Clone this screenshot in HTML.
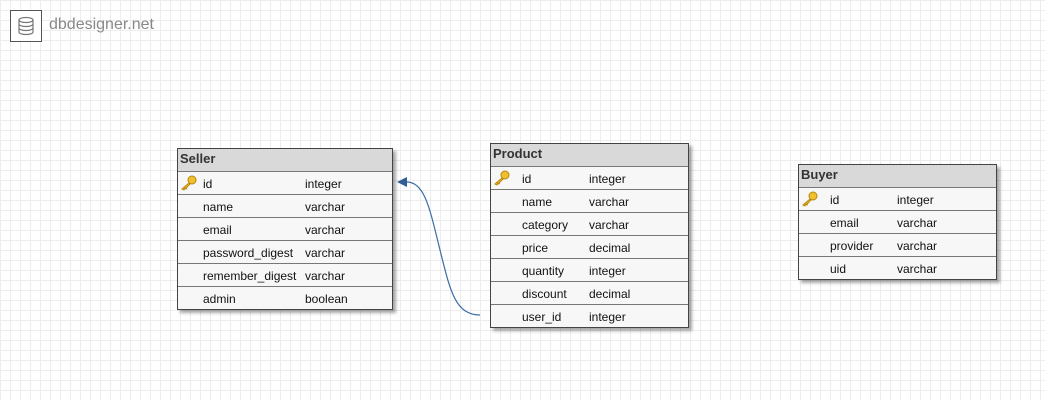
<!DOCTYPE html>
<html><head><meta charset="utf-8"><style>
html,body{margin:0;padding:0}
body{width:1045px;height:400px;position:relative;overflow:hidden;background:#fff;
background-image:linear-gradient(#ededed 1px,transparent 1px),linear-gradient(90deg,#ededed 1px,transparent 1px);
background-size:10px 10px;background-position:0 0;font-family:"Liberation Sans",Arial,sans-serif;}
.logo{position:absolute;left:10px;top:10px;width:30px;height:30px;border:1px solid #555;background:#fff}
.brand{position:absolute;left:49px;top:16px;font-size:16px;color:#888}
.t{position:absolute;border:1px solid #444;background:#f7f7f7;box-shadow:3px 3px 3px rgba(0,0,0,.35)}
.h{height:22px;line-height:20px;background:#d9d9d9;border-bottom:1px solid #777;font-weight:bold;font-size:13px;color:#333;padding-left:2px}
.r{height:22px;border-bottom:1px solid #777;position:relative;font-size:12px;color:#111;line-height:22px}
.r:last-child{border-bottom:none}
.r span{position:absolute;top:1px}
.k{position:absolute;left:2px;top:3px}
</style></head><body>
<div class="logo"><svg width="30" height="30" viewBox="0 0 30 30"><g fill="none" stroke="#777" stroke-width="1.2"><ellipse cx="15" cy="9" rx="7" ry="2.5"/><path d="M8 9v12c0 1.4 3.1 2.5 7 2.5s7-1.1 7-2.5V9M8 13c0 1.4 3.1 2.5 7 2.5s7-1.1 7-2.5M8 17c0 1.4 3.1 2.5 7 2.5s7-1.1 7-2.5"/></g></svg></div>
<div class="brand">dbdesigner.net</div>

<svg style="position:absolute;left:0;top:0" width="1045" height="400">
<path d="M480 315 C 455 315 450 290 440 250 C 430 210 425 182 407 182" fill="none" stroke="#3a6ea5" stroke-width="1.2"/>
<polygon points="397,182 407,177 407,187" fill="#2f5f95"/>
</svg>

<div class="t" style="left:177px;top:148px;width:214px">
<div class="h">Seller</div>
<div class="r"><svg class="k" width="18" height="16" viewBox="0 0 18 16"><circle cx="12" cy="5" r="4" fill="#f0c030" stroke="#b8860b"/><path d="M9 8 L2 14 L4 15 L5 13 L6 14 L7 12 L10 9Z" fill="#f0c030" stroke="#b8860b"/></svg><span style="left:25px">id</span><span style="left:127px">integer</span></div>
<div class="r"><span style="left:25px">name</span><span style="left:127px">varchar</span></div>
<div class="r"><span style="left:25px">email</span><span style="left:127px">varchar</span></div>
<div class="r"><span style="left:25px">password_digest</span><span style="left:127px">varchar</span></div>
<div class="r"><span style="left:25px">remember_digest</span><span style="left:127px">varchar</span></div>
<div class="r"><span style="left:25px">admin</span><span style="left:127px">boolean</span></div>
</div>

<div class="t" style="left:490px;top:143px;width:197px">
<div class="h">Product</div>
<div class="r"><svg class="k" width="18" height="16" viewBox="0 0 18 16"><circle cx="12" cy="5" r="4" fill="#f0c030" stroke="#b8860b"/><path d="M9 8 L2 14 L4 15 L5 13 L6 14 L7 12 L10 9Z" fill="#f0c030" stroke="#b8860b"/></svg><span style="left:31px">id</span><span style="left:98px">integer</span></div>
<div class="r"><span style="left:31px">name</span><span style="left:98px">varchar</span></div>
<div class="r"><span style="left:31px">category</span><span style="left:98px">varchar</span></div>
<div class="r"><span style="left:31px">price</span><span style="left:98px">decimal</span></div>
<div class="r"><span style="left:31px">quantity</span><span style="left:98px">integer</span></div>
<div class="r"><span style="left:31px">discount</span><span style="left:98px">decimal</span></div>
<div class="r"><span style="left:31px">user_id</span><span style="left:98px">integer</span></div>
</div>

<div class="t" style="left:798px;top:164px;width:197px">
<div class="h">Buyer</div>
<div class="r"><svg class="k" width="18" height="16" viewBox="0 0 18 16"><circle cx="12" cy="5" r="4" fill="#f0c030" stroke="#b8860b"/><path d="M9 8 L2 14 L4 15 L5 13 L6 14 L7 12 L10 9Z" fill="#f0c030" stroke="#b8860b"/></svg><span style="left:31px">id</span><span style="left:98px">integer</span></div>
<div class="r"><span style="left:31px">email</span><span style="left:98px">varchar</span></div>
<div class="r"><span style="left:31px">provider</span><span style="left:98px">varchar</span></div>
<div class="r"><span style="left:31px">uid</span><span style="left:98px">varchar</span></div>
</div>
</body></html>
